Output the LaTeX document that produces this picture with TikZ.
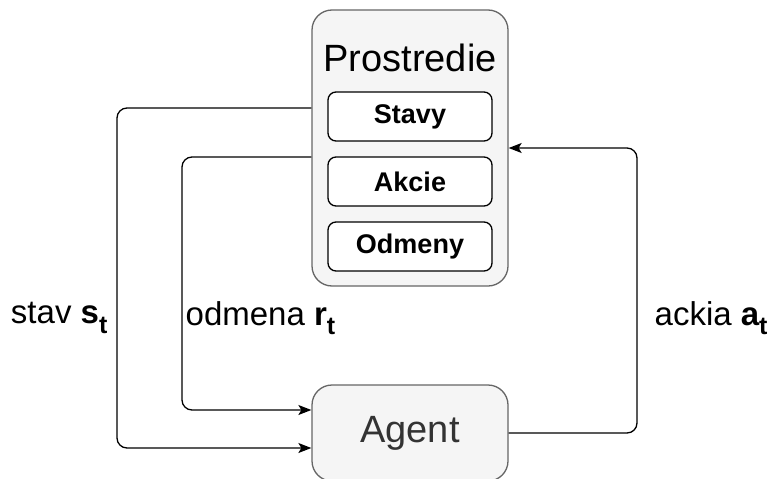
\documentclass[tikz,border=0pt]{standalone}
\usepackage{fontspec}
\setmainfont{Liberation Sans}
\definecolor{envfill}{RGB}{245,245,245}
\definecolor{envdraw}{RGB}{102,102,102}
\definecolor{agenttext}{RGB}{51,51,51}
\usetikzlibrary{arrows.meta,positioning,calc}
\newcommand{\subt}{\raisebox{-0.28em}{\fontsize{25}{27}\selectfont t}}

\begin{document}
\begin{tikzpicture}[
  x=1pt,y=-1pt,
  envbox/.style={draw=envdraw,fill=envfill,rounded corners=20pt,line width=1.3pt,
                 minimum width=196pt,minimum height=276pt},
  partbox/.style={draw=black,fill=white,rounded corners=8pt,line width=1.3pt,
                  minimum width=164pt,minimum height=49pt,
                  font=\fontsize{27}{29}\selectfont\bfseries},
  agentbox/.style={draw=envdraw,fill=envfill,rounded corners=20pt,line width=1.3pt,
                   minimum width=196pt,minimum height=96pt,text=agenttext,
                   font=\fontsize{38}{40}\selectfont},
  lbl/.style={font=\fontsize{33}{35}\selectfont,inner sep=3pt},
  arr/.style={-{Stealth[length=13pt,width=10pt,inset=3pt]},line width=1.3pt,rounded corners=10pt},
]
  \useasboundingbox (0,0) rectangle (771,479);

  % Environment with its parts
  \node[envbox] (env) at (410,148) {};
  \node[font=\fontsize{38}{40}\selectfont] (envtitle) at (410,58) {Prostredie};
  \node[partbox] (stavy) at (410,116.5) {Stavy};
  \node[partbox] (akcie) at (410,181.5) {Akcie};
  \node[partbox] (odmeny) at (410,246.5) {Odmeny};

  % Agent (cut by the lower edge)
  \node[agentbox] (agent) at (410,433) {Agent};

  % Arrows
  \draw[arr] ([yshift=40pt]env.west) -| (117,318)
    node[lbl,anchor=east,xshift=-6pt] {stav \textbf{s\subt}}
    |- ([yshift=-15pt]agent.west);
  \draw[arr] ([yshift=-9pt]env.west) -| (182,318)
    node[lbl,anchor=west] {odmena \textbf{r\subt}}
    |- ([yshift=23pt]agent.west);
  \draw[arr] (agent.east) -| (637,318)
    node[lbl,anchor=west,xshift=14pt] {ackia \textbf{a\subt}}
    |- (env.east);
\end{tikzpicture}
\end{document}
